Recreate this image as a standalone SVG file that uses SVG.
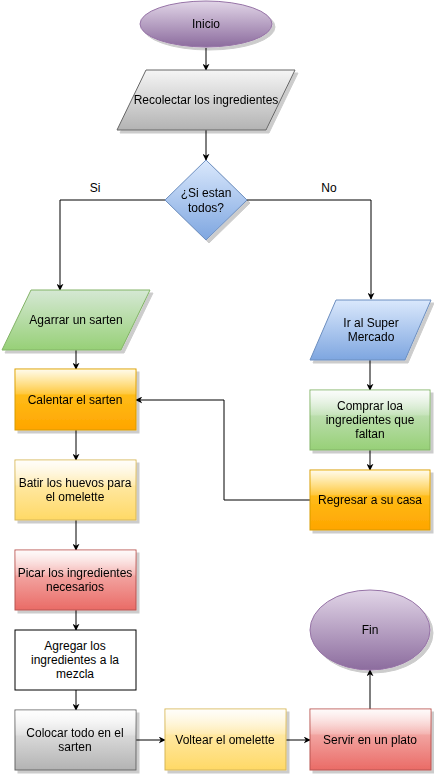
<svg xmlns="http://www.w3.org/2000/svg" width="434" height="775" viewBox="0 0 434 775">
<defs>
<linearGradient id="gPurple" x1="0" y1="0" x2="0" y2="1"><stop offset="0" stop-color="#e1d5e7"/><stop offset="1" stop-color="#8c6c9e"/></linearGradient>
<linearGradient id="gGray" x1="0" y1="0" x2="0" y2="1"><stop offset="0" stop-color="#f5f5f5"/><stop offset="1" stop-color="#b3b3b3"/></linearGradient>
<linearGradient id="gBlue" x1="0" y1="0" x2="0" y2="1"><stop offset="0" stop-color="#dae8fc"/><stop offset="1" stop-color="#7ea6e0"/></linearGradient>
<linearGradient id="gGreen" x1="0" y1="0" x2="0" y2="1"><stop offset="0" stop-color="#d5e8d4"/><stop offset="1" stop-color="#97d077"/></linearGradient>
<linearGradient id="gOrange" x1="0" y1="0" x2="0" y2="1"><stop offset="0" stop-color="#ffcd28"/><stop offset="1" stop-color="#ffa500"/></linearGradient>
<linearGradient id="gYellow" x1="0" y1="0" x2="0" y2="1"><stop offset="0" stop-color="#fff2cc"/><stop offset="1" stop-color="#ffd966"/></linearGradient>
<linearGradient id="gRed" x1="0" y1="0" x2="0" y2="1"><stop offset="0" stop-color="#f8cecc"/><stop offset="1" stop-color="#ea6b66"/></linearGradient>
<linearGradient id="gGlass" x1="0" y1="0" x2="0" y2="1"><stop offset="0" stop-color="#ffffff" stop-opacity="0.9"/><stop offset="1" stop-color="#ffffff" stop-opacity="0.15"/></linearGradient>
<filter id="sh" x="-10%" y="-10%" width="130%" height="130%">
<feOffset in="SourceAlpha" dx="3" dy="3" result="o"/>
<feFlood flood-color="#000" flood-opacity="0.2"/>
<feComposite in2="o" operator="in" result="s"/>
<feMerge><feMergeNode in="s"/><feMergeNode in="SourceGraphic"/></feMerge>
</filter>
<marker id="arr" viewBox="0 0 10 10" refX="9" refY="5" markerWidth="7" markerHeight="7" orient="auto" markerUnits="userSpaceOnUse">
<path d="M0,0 L10,5 L0,10 L3,5 Z" fill="#000"/>
</marker>
</defs>
<style>
text{font-family:"Liberation Sans",Arial,sans-serif;font-size:12px;fill:#000;text-anchor:middle;dominant-baseline:central}
.c{fill:none;stroke:#000;stroke-width:1;marker-end:url(#arr)}
.purple{fill:url(#gPurple);stroke:#9673a6}
.gray{fill:url(#gGray);stroke:#666666}
.blue{fill:url(#gBlue);stroke:#6c8ebf}
.green{fill:url(#gGreen);stroke:#82b366}
.orange{fill:url(#gOrange);stroke:#d79b00}
.yellow{fill:url(#gYellow);stroke:#d6b656}
.red{fill:url(#gRed);stroke:#b85450}
.white{fill:#fff;stroke:#000}
.glass{fill:url(#gGlass);stroke:none}
.n{filter:url(#sh)}
</style>
<g id="connectors">
<path class="c" d="M206,48 L206,70"/>
<path class="c" d="M206,130 L206,160"/>
<path class="c" d="M166,200 L60,200 L60,290"/>
<path class="c" d="M246,200 L371,200 L371,299"/>
<path class="c" d="M76,350 L76,369"/>
<path class="c" d="M76,430 L76,460"/>
<path class="c" d="M76,520 L76,550"/>
<path class="c" d="M76,610 L76,630"/>
<path class="c" d="M76,690 L76,710"/>
<path class="c" d="M136,740 L165,740"/>
<path class="c" d="M286,740 L310,740"/>
<path class="c" d="M370,709 L370,670"/>
<path class="c" d="M370,360 L370,390"/>
<path class="c" d="M370,450 L370,470"/>
<path class="c" d="M310,500 L224,500 L224,400 L136,400"/>
<text x="95" y="188">Si</text>
<text x="329" y="188">No</text>
</g>
<g id="inicio" class="n"><ellipse class="purple" cx="206" cy="24" rx="66" ry="23"/><text x="206" y="24">Inicio</text></g>
<g id="recolectar" class="n"><path class="gray" d="M146,70 L295,70 L266,130 L117,130 Z"/><text x="206" y="100">Recolectar los ingredientes</text></g>
<g id="decision" class="n"><path class="blue" d="M206,160 L247,200 L206,240 L165,200 Z"/><text x="206" y="193">¿Si estan</text><text x="206" y="208">todos?</text></g>
<g id="agarrar" class="n"><path class="green" d="M31,290 L150,290 L121,350 L2,350 Z"/><text x="76" y="320">Agarrar un sarten</text></g>
<g id="calentar" class="n"><rect class="orange" x="15" y="369" width="121" height="61"/><rect class="glass" x="15.5" y="369.5" width="120" height="25"/><text x="75" y="400">Calentar el sarten</text></g>
<g id="batir" class="n"><rect class="yellow" x="15" y="460" width="121" height="60"/><rect class="glass" x="15.5" y="460.5" width="120" height="25"/><text x="75" y="483">Batir los huevos para</text><text x="75" y="497">el omelette</text></g>
<g id="picar" class="n"><rect class="red" x="15" y="550" width="121" height="60"/><rect class="glass" x="15.5" y="550.5" width="120" height="25"/><text x="75" y="573">Picar los ingredientes</text><text x="75" y="587">necesarios</text></g>
<g id="agregar"><rect class="white" x="15" y="630" width="121" height="60"/><text x="75" y="646">Agregar los</text><text x="75" y="660">ingredientes a la</text><text x="75" y="674">mezcla</text></g>
<g id="colocar" class="n"><rect class="gray" x="15" y="710" width="121" height="60"/><rect class="glass" x="15.5" y="710.5" width="120" height="25"/><text x="75" y="733">Colocar todo en el</text><text x="75" y="747">sarten</text></g>
<g id="voltear" class="n"><rect class="yellow" x="165" y="709" width="121" height="61"/><rect class="glass" x="165.5" y="709.5" width="120" height="25"/><text x="225" y="740">Voltear el omelette</text></g>
<g id="servir" class="n"><rect class="red" x="310" y="709" width="121" height="61"/><rect class="glass" x="310.5" y="709.5" width="120" height="25"/><text x="370" y="740">Servir en un plato</text></g>
<g id="fin" class="n"><ellipse class="purple" cx="370" cy="630" rx="60" ry="40"/><text x="370" y="630">Fin</text></g>
<g id="irsuper" class="n"><path class="blue" d="M336,300 L431,300 L405,360 L310,360 Z"/><text x="371" y="323">Ir al Super</text><text x="371" y="337">Mercado</text></g>
<g id="comprar" class="n"><rect class="green" x="310" y="390" width="120" height="60"/><rect class="glass" x="310.5" y="390.5" width="119" height="25"/><text x="370" y="406">Comprar loa</text><text x="370" y="420">ingredientes que</text><text x="370" y="434">faltan</text></g>
<g id="regresar" class="n"><rect class="orange" x="310" y="470" width="120" height="60"/><rect class="glass" x="310.5" y="470.5" width="119" height="25"/><text x="370" y="500">Regresar a su casa</text></g>
</svg>
